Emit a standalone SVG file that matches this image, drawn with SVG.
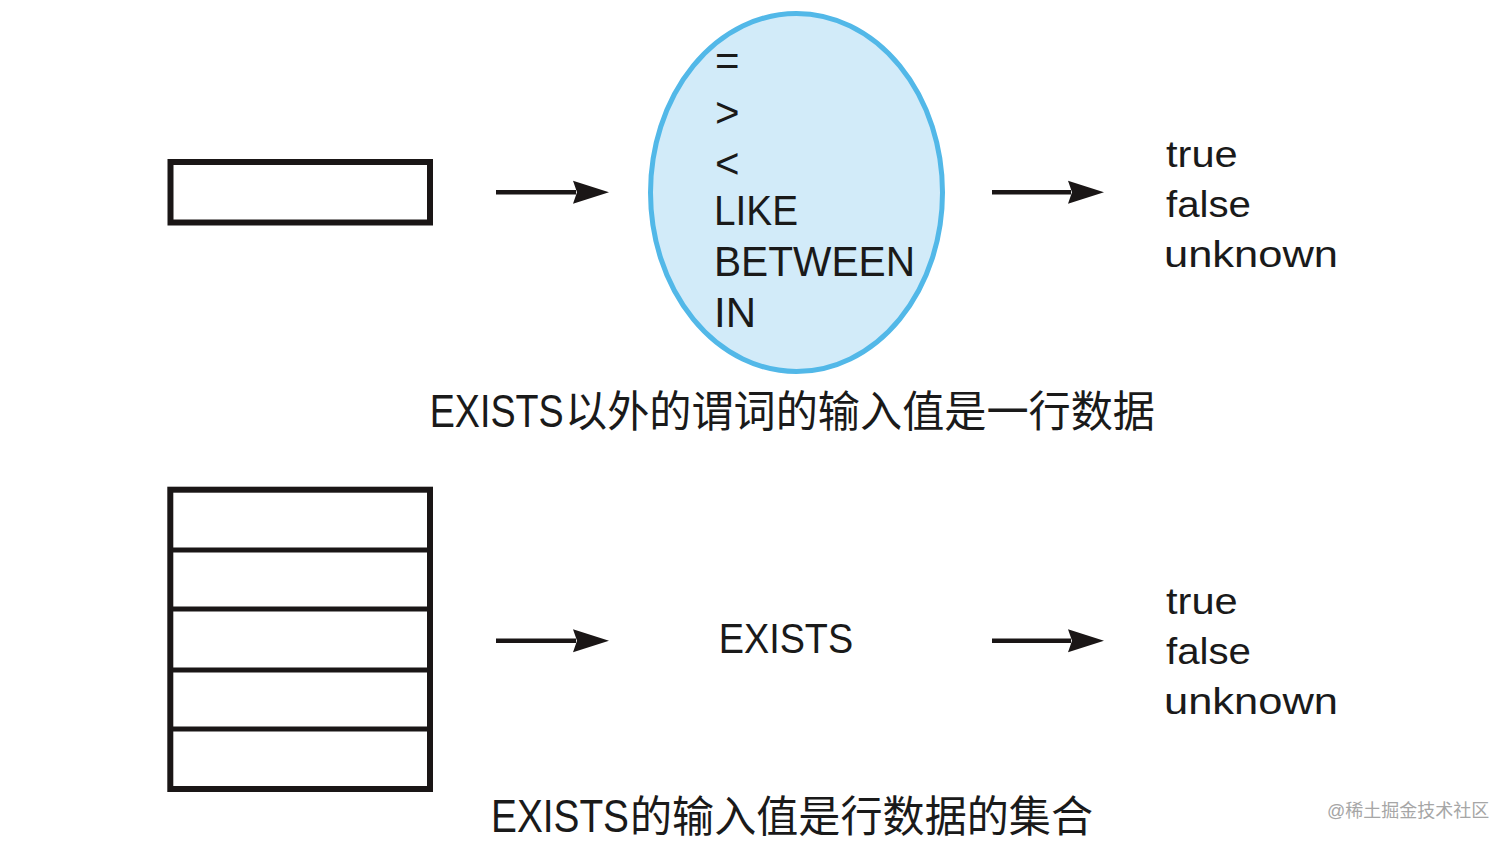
<svg xmlns="http://www.w3.org/2000/svg" width="1512" height="844" viewBox="0 0 1512 844">
  <style>
    .box { fill: #ffffff; stroke: #1a1616; stroke-width: 6; }
    .div { stroke: #1a1616; stroke-width: 5; fill: none; }
    .conn { stroke: #1a1616; stroke-width: 4.5; fill: none; }
    .lat { font-family: "Liberation Sans", Arial, sans-serif; fill: #1a1a1a; }
    .cjk { font-family: "Noto Sans CJK SC", "Liberation Sans", sans-serif; fill: #1a1a1a; }
    .op { font-size: 42px; }
    .res { font-size: 36px; }
    .cap { font-size: 46px; }
    .capc { font-size: 43px; }
    .wm { font-family: "Liberation Sans", "Noto Sans CJK SC", sans-serif; font-size: 18px; fill: #a6a6a6; }
  </style>
  <defs>
    <marker id="arrow" markerUnits="userSpaceOnUse" viewBox="0 0 36 24" markerWidth="36" markerHeight="24" refX="3" refY="12" orient="auto">
      <path d="M0,0.5 L36,12 L0,23.5 L4,12 Z" fill="#1a1616"/>
    </marker>
  </defs>
  <rect width="1512" height="844" fill="#ffffff"/>

  <g id="single-row">
    <rect class="box" x="170.5" y="162" width="259.5" height="60.5"/>
  </g>

  <g id="predicates">
    <ellipse cx="796.5" cy="192.5" rx="146" ry="179" fill="#d2ebf9" stroke="#52b8e8" stroke-width="5"/>
    <text class="lat op" x="715" y="75">=</text>
    <text class="lat op" x="715" y="127">&gt;</text>
    <text class="lat op" x="715" y="178">&lt;</text>
    <text class="lat op" x="714" y="225" textLength="84" lengthAdjust="spacingAndGlyphs">LIKE</text>
    <text class="lat op" x="714" y="276" textLength="201" lengthAdjust="spacingAndGlyphs">BETWEEN</text>
    <text class="lat op" x="714" y="327">IN</text>
  </g>

  <g id="result-top">
    <text class="lat res" x="1166" y="167" textLength="71.7" lengthAdjust="spacingAndGlyphs">true</text>
    <text class="lat res" x="1166" y="217" textLength="85" lengthAdjust="spacingAndGlyphs">false</text>
    <text class="lat res" x="1164" y="267" textLength="174" lengthAdjust="spacingAndGlyphs">unknown</text>
  </g>

  <g id="caption-top">
    <text y="426.7"><tspan class="lat cap" x="429.7" textLength="134" lengthAdjust="spacingAndGlyphs">EXISTS</tspan><tspan class="cjk capc" x="565" textLength="590" lengthAdjust="spacingAndGlyphs">以外的谓词的输入值是一行数据</tspan></text>
  </g>

  <g id="row-set">
    <rect class="box" x="170.3" y="489.7" width="259.7" height="299.3"/>
    <line class="div" x1="170.3" y1="550" x2="430" y2="550"/>
    <line class="div" x1="170.3" y1="609" x2="430" y2="609"/>
    <line class="div" x1="170.3" y1="670" x2="430" y2="670"/>
    <line class="div" x1="170.3" y1="729" x2="430" y2="729"/>
  </g>

  <g id="exists">
    <text class="lat op" x="718.7" y="653.3" textLength="134.5" lengthAdjust="spacingAndGlyphs">EXISTS</text>
  </g>

  <g id="result-bottom">
    <text class="lat res" x="1166" y="614" textLength="71.7" lengthAdjust="spacingAndGlyphs">true</text>
    <text class="lat res" x="1166" y="664" textLength="85" lengthAdjust="spacingAndGlyphs">false</text>
    <text class="lat res" x="1164" y="714" textLength="174" lengthAdjust="spacingAndGlyphs">unknown</text>
  </g>

  <g id="caption-bottom">
    <text y="832"><tspan class="lat cap" x="491" textLength="138" lengthAdjust="spacingAndGlyphs">EXISTS</tspan><tspan class="cjk capc" x="630" textLength="463" lengthAdjust="spacingAndGlyphs">的输入值是行数据的集合</tspan></text>
  </g>

  <g id="connectors">
    <line class="conn" x1="496" y1="192.3" x2="576" y2="192.3" marker-end="url(#arrow)"/>
    <line class="conn" x1="992" y1="192.3" x2="1071" y2="192.3" marker-end="url(#arrow)"/>
    <line class="conn" x1="496" y1="640.7" x2="576" y2="640.7" marker-end="url(#arrow)"/>
    <line class="conn" x1="992" y1="640.7" x2="1071" y2="640.7" marker-end="url(#arrow)"/>
  </g>

  <text class="wm" x="1327" y="817">@稀土掘金技术社区</text>
</svg>
